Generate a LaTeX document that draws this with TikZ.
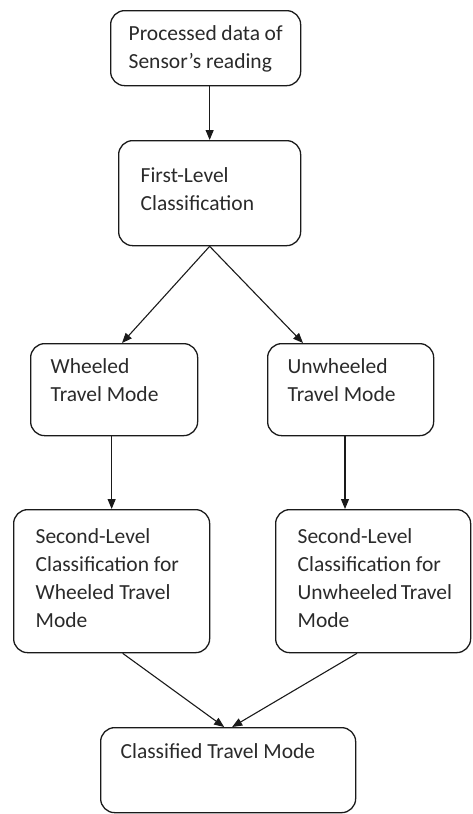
\documentclass[tikz,border=0pt]{standalone}
\usepackage{fontspec}
\setmainfont{Carlito}
\usetikzlibrary{arrows.meta,calc}
\definecolor{inkline}{HTML}{1A1A1A}
\definecolor{inktext}{HTML}{2A2A2A}
\tikzset{
  stage/.style={draw=inkline, line width=1.3pt, rounded corners=14pt, anchor=north west,
    inner ysep=0pt, text=inktext, font=\fontsize{21.5}{28}\selectfont},
  flow/.style={draw=inkline, line width=1.1pt, -{Triangle[length=10pt,width=8pt]}}
}
% width, height, top gap, text
\newcommand{\stagetext}[4]{\parbox[t][#2][t]{#1}{\raggedright\vspace*{#3}\strut#4}}
\begin{document}
\begin{tikzpicture}[x=1pt,y=-1pt]
	\useasboundingbox (0,0) rectangle (472,814);
	% boxes
	\node[stage,inner xsep=18pt] (proc) at (110,10) {\stagetext{154pt}{75pt}{10pt}{Processed data of\\Sensor’s reading}};
	\node[stage,inner xsep=22pt] (first) at (118,140) {\stagetext{138pt}{105pt}{22pt}{First-Level\\Classification}};
	\node[stage,inner xsep=20pt] (wheel) at (30,343) {\stagetext{127pt}{92pt}{10pt}{Wheeled\\Travel Mode}};
	\node[stage,inner xsep=20pt] (unwheel) at (267,343) {\stagetext{126pt}{92pt}{10pt}{Unwheeled\\Travel Mode}};
	\node[stage,inner xsep=22pt] (secwheel) at (13,509) {\stagetext{152pt}{143pt}{14pt}{Second-Level\\Classification for\\Wheeled~Travel\\Mode}};
	\node[stage,inner xsep=22pt] (secunwheel) at (275,509) {\stagetext{151pt}{143pt}{14pt}{Second-Level\\Classification~for\\Unwheeled~Travel\\Mode}};
	\node[stage,inner xsep=20pt] (result) at (100,727) {\stagetext{215pt}{85pt}{11pt}{Classified Travel Mode}};
	% arrows
	\draw[flow] (first.north |- proc.south) -- (first.north);
	\draw[flow] (first.south) -- ($(wheel.north west)+(92,0)$);
	\draw[flow] (first.south) -- ($(unwheel.north west)+(36,0)$);
	\draw[flow] (secwheel.north |- wheel.south) -- (secwheel.north);
	\draw[flow] ($(unwheel.south west)+(78,0)$) -- ($(secunwheel.north west)+(70,0)$);
	\draw[flow] ($(secwheel.south)+(11,0)$) -- ($(result.north)+(-4,0)$);
	\draw[flow] ($(secunwheel.south west)+(82,0)$) -- ($(result.north)+(4,0)$);
\end{tikzpicture}
\end{document}
